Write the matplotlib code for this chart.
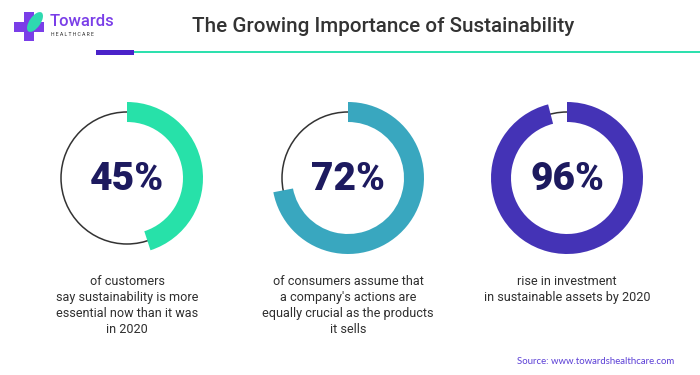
import matplotlib
matplotlib.use("Agg")
import matplotlib.pyplot as plt
from matplotlib.patches import Wedge, Circle, Rectangle, Ellipse

W, H = 700, 375
title = "The Growing Importance of Sustainability"
values = [45, 72, 96]
value_labels = ["45%", "72%", "96%"]
descriptions = [
    "of customers\nsay sustainability is more\nessential now than it was\nin 2020",
    "of consumers assume that\na company's actions are\nequally crucial as the products\nit sells",
    "rise in investment\nin sustainable assets by 2020",
]
colors = ["#27E1A9", "#39A7BF", "#4433B6"]
source = "Source: www.towardshealthcare.com"

plt.rcParams['font.family'] = ['Roboto', 'DejaVu Sans']

fig = plt.figure(figsize=(W / 100, H / 100), dpi=100)
ax = fig.add_axes([0, 0, 1, 1])
ax.set_xlim(0, W)
ax.set_ylim(0, H)
ax.set_aspect('equal')
ax.axis('off')

def Y(y):
    return H - y

# Header
ax.text(383, Y(27), title, ha='center', va='center', fontsize=14.9,
        fontweight='medium', color='#333333')
ax.add_patch(Rectangle((134, Y(53)), W - 134, 2, color='#2EE0AE', lw=0))
ax.add_patch(Rectangle((96, Y(54.5)), 38, 4.5, color='#4A22C9', lw=0))

# Logo
purple = '#7A3EE8'
ax.add_patch(Rectangle((14, Y(32)), 30, 10, color=purple, lw=0))
ax.add_patch(Rectangle((24, Y(41)), 10, 29, color=purple, lw=0))
ax.add_patch(Ellipse((35, Y(22)), 11, 23, angle=-35, color='#2ED9B0', lw=0))
ax.text(50, Y(22), "Towards", ha='left', va='center', fontsize=12,
        fontweight='medium', color=purple)
ax.text(51, Y(35), "H E A L T H C A R E", ha='left', va='center', fontsize=3.7,
        color='#333333')

# Rings
centers_x = [127, 348, 567]
cy = 178
r_mid = 66
band = 20
for cx, v, lab, desc, c in zip(centers_x, values, value_labels, descriptions, colors):
    ax.add_patch(Circle((cx, Y(cy)), r_mid, fill=False, ec='#333333', lw=1.1))
    ax.add_patch(Wedge((cx, Y(cy)), r_mid + band / 2, 90 - 360 * v / 100, 90,
                       width=band, color=c, lw=0))
    ax.text(cx, Y(cy + 1), lab, ha='center', va='center', fontsize=28,
            fontweight='black', color='#1D1A5F')
    ax.text(cx, Y(275), desc, ha='center', va='top', fontsize=9.1,
            color='#2F2F2F', linespacing=1.3)

ax.text(674, Y(362), source, ha='right', va='center', fontsize=6.9,
        color='#5B3FD6', family=['Lato', 'DejaVu Sans'])

fig.savefig('out.png', dpi=100, facecolor='white')
